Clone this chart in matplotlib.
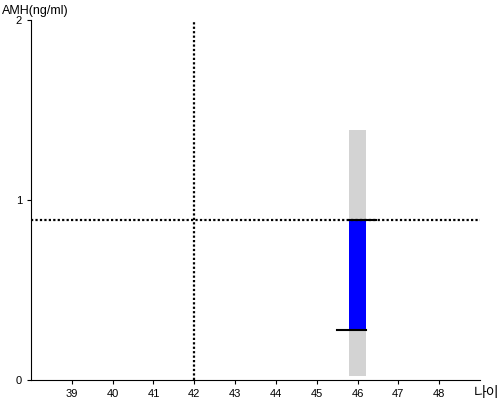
import matplotlib
matplotlib.use('Agg')
import matplotlib.pyplot as plt

plt.rcParams['font.family'] = ['Liberation Sans', 'Noto Sans CJK KR', 'DejaVu Sans']

# data
age = 46
ref_age = 42
ref_amh = 0.89
range_low, range_high = 0.02, 1.39
amh_low, amh_high = 0.28, 0.89
xticks = [39, 40, 41, 42, 43, 44, 45, 46, 47, 48]
yticks = [0, 1, 2]

fig = plt.figure(figsize=(5, 4), dpi=100)
ax = fig.add_axes([0.062, 0.05, 0.898, 0.9])

# grey range bar and blue bar
ax.bar(age, range_high - range_low, bottom=range_low, width=0.4, color='#d3d3d3', zorder=1)
ax.bar(age, amh_high - amh_low, bottom=amh_low, width=0.4, color='#0000ff', zorder=2)
# marker lines
ax.plot([age - 0.2, age + 0.45], [amh_high, amh_high], color='black', lw=1.5, zorder=3)
ax.plot([age - 0.5, age + 0.2], [amh_low, amh_low], color='black', lw=1.5, zorder=3)

# reference dotted lines
ax.axvline(ref_age, color='black', ls=(0, (1, 1)), lw=1.6, zorder=4)
ax.axhline(ref_amh, color='black', ls=(0, (1, 1)), lw=1.6, zorder=4)

ax.set_xlim(38, 49)
ax.set_ylim(0, 2)
ax.set_xticks(xticks)
ax.set_yticks(yticks)
ax.tick_params(labelsize=8, length=3, colors='black')
ax.spines['top'].set_visible(False)
ax.spines['right'].set_visible(False)

fig.text(0.004, 0.972, 'AMH(ng/ml)', fontsize=9, ha='left', va='center')
fig.text(0.948, 0.018, '나이', fontsize=10, ha='left', va='center')

plt.savefig('out.png')
